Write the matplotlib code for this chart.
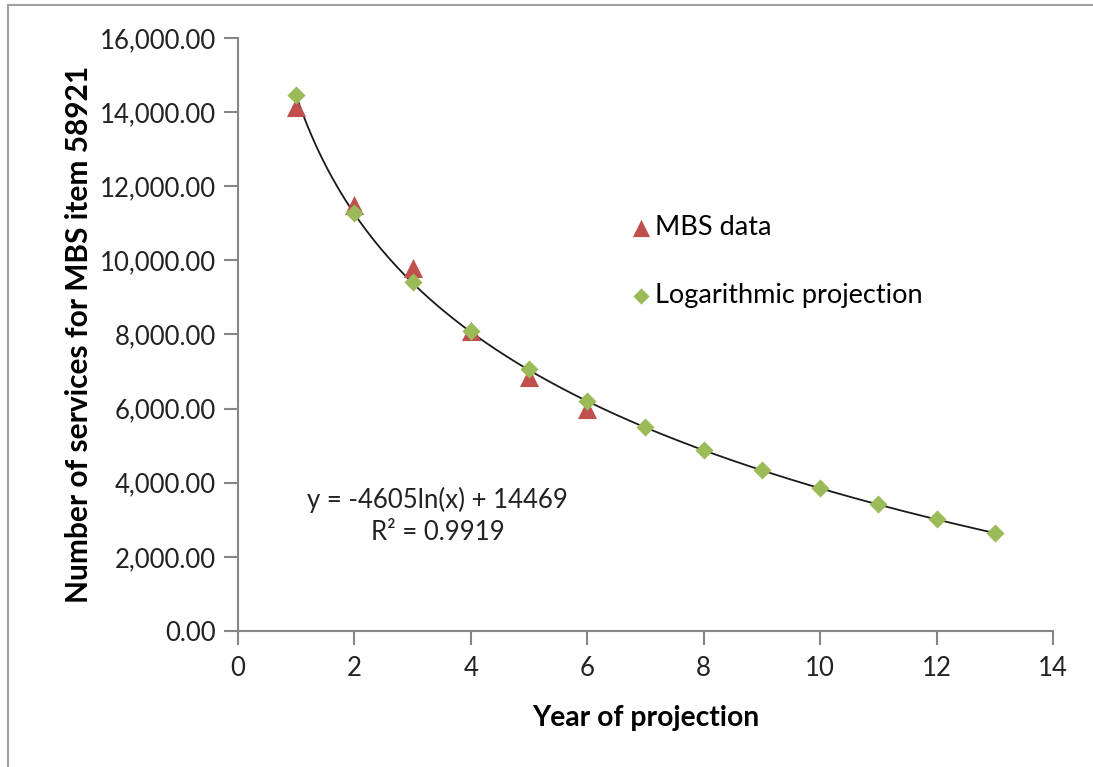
import matplotlib
matplotlib.use("Agg")
import matplotlib.pyplot as plt
from matplotlib.lines import Line2D
from matplotlib.ticker import FuncFormatter
import numpy as np

# ── Data ──────────────────────────────────────────────────────────────────────
mbs_years = [1, 2, 3, 4, 5, 6]
mbs_services = [14150, 11500, 9800, 8100, 6850, 6000]

proj_years = [1, 2, 3, 4, 5, 6, 7, 8, 9, 10, 11, 12, 13]
proj_services = [14469, 11277, 9410, 8085, 7057, 6218, 5508,
                 4893, 4351, 3866, 3427, 3026, 2657]

x_ticks = [0, 2, 4, 6, 8, 10, 12, 14]
y_ticks = [0, 2000, 4000, 6000, 8000, 10000, 12000, 14000, 16000]

eq_text = "y = -4605ln(x) + 14469\nR² = 0.9919"

RED = "#C0504D"
GREEN = "#9BBB59"
GRAY = "#868686"

plt.rcParams["font.family"] = ["Lato", "DejaVu Sans"]

fig = plt.figure(figsize=(10.93, 7.67), dpi=100)
ax = fig.add_axes([0.2177, 0.1773, 0.7457, 0.7732])

# logarithmic trendline fitted to the MBS data (as the spreadsheet does)
coef = np.polyfit(np.log(mbs_years), mbs_services, 1)
xs = np.linspace(1, 13, 200)
ax.plot(xs, coef[0] * np.log(xs) + coef[1], color="#1a1a1a", lw=1.3, zorder=2)

ax.scatter(mbs_years, mbs_services, marker="^", s=190, color=RED,
           label="MBS data", zorder=3, linewidths=0)
ax.scatter(proj_years, proj_services, marker="D", s=85, color=GREEN,
           label="Logarithmic projection", zorder=4, linewidths=0)

ax.set_xlim(0, 14)
ax.set_ylim(0, 16000)
ax.set_xticks(x_ticks)
ax.set_yticks(y_ticks)
ax.yaxis.set_major_formatter(FuncFormatter(lambda v, p: f"{v:,.2f}"))

for side in ("top", "right"):
    ax.spines[side].set_visible(False)
for side in ("left", "bottom"):
    ax.spines[side].set_color(GRAY)
    ax.spines[side].set_linewidth(1.5)
ax.tick_params(axis="both", colors=GRAY, length=10, width=1.5,
               labelsize=18.5, labelcolor="#222222", pad=6)
ax.tick_params(axis="x", pad=8)

ax.set_xlabel("Year of projection", fontsize=20.3, fontweight="bold", labelpad=17)
ax.set_ylabel("Number of services for MBS item 58921", fontsize=21.5,
              fontweight="bold", labelpad=5)

ax.text(3.43, 3100, eq_text, fontsize=18.5, ha="center", va="center",
        linespacing=1.35, color="#222222")

ax.legend(loc="upper left", bbox_to_anchor=(0.455, 0.72), frameon=False,
          fontsize=19.5, handletextpad=-0.3, handlelength=1.6,
          labelspacing=1.6, markerscale=0.9, borderaxespad=0)

# chart-area border (top and left edges visible)
fig.add_artist(Line2D([8 / 1093, 8 / 1093], [0, 1 - 5 / 767],
                      transform=fig.transFigure, color="#A0A0A0", lw=1.5))
fig.add_artist(Line2D([8 / 1093, 1], [1 - 5 / 767, 1 - 5 / 767],
                      transform=fig.transFigure, color="#A0A0A0", lw=1.5))

fig.savefig("out.png", dpi=100)
